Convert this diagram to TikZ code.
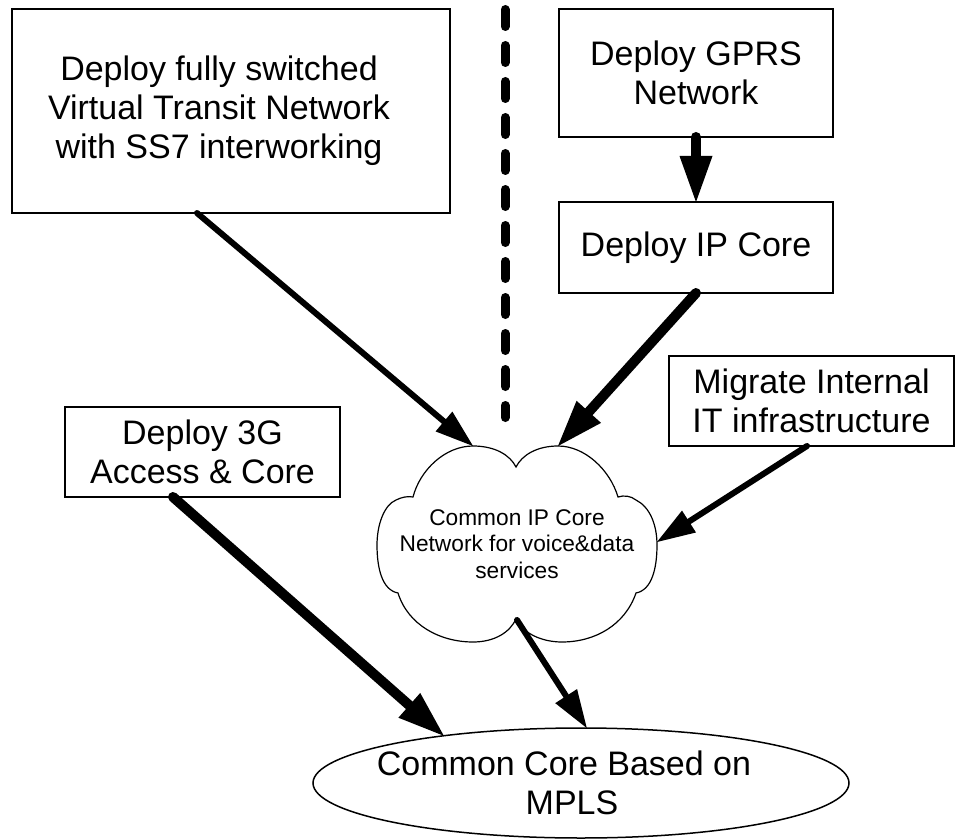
\documentclass[tikz,border=0pt]{standalone}
\usepackage{fontspec}
\setmainfont{Liberation Sans}
\usetikzlibrary{arrows.meta,shapes.geometric}
\newcommand{\nudge}{\hspace*{-24pt}}
\begin{document}
\begin{tikzpicture}[x=1pt,y=-1pt,
    stepbox/.style={draw,line width=1.5pt,rectangle,align=center,inner sep=0pt,outer sep=0pt,font=\fontsize{34}{39}\selectfont},
    heavy/.style={line width=10pt,line cap=round,-{Triangle[length=46pt,width=33pt,line width=0pt]}},
    light/.style={line width=6pt,line cap=round,-{Triangle[length=38pt,width=26pt,line width=0pt]}},
    divider/.style={line width=9pt,line cap=round,dash pattern=on 17pt off 19pt}]
    \useasboundingbox (0,0) rectangle (956,840);
    %% boxes
    \node[stepbox,minimum width=438pt,minimum height=204pt] (vtn) at (231,111) {\nudge Deploy fully switched\\\nudge Virtual Transit Network\\\nudge with SS7 interworking};
    \node[stepbox,minimum width=274pt,minimum height=128pt] (gprs) at (696,73) {Deploy GPRS\\Network};
    \node[stepbox,minimum width=274pt,minimum height=91pt] (ipcore) at (696,247.5) {Deploy IP Core};
    \node[stepbox,minimum width=285pt,minimum height=90pt] (migrate) at (811.5,401) {Migrate Internal\\IT infrastructure};
    \node[stepbox,minimum width=275pt,minimum height=90pt] (threeg) at (202.5,452) {Deploy 3G\\Access \& Core};
    %% divider
    \draw[divider] (505,9.5) -- (505,417.5);
    %% cloud
    \draw[line width=1.2pt,fill=white] (413,497) .. controls (420,470) and (445,446) .. (473,446)
        .. controls (495,446) and (510,455) .. (516,467)
        .. controls (522,455) and (537,446) .. (558,446)
        .. controls (585,446) and (610,470) .. (618,497)
        .. controls (624,495) and (631,496) .. (636,500)
        .. controls (650,507) and (657,525) .. (657,545)
        .. controls (657,568) and (652,590) .. (636,593)
        .. controls (625,625) and (595,642) .. (562,642)
        .. controls (540,642) and (522,632) .. (516,619)
        .. controls (510,632) and (495,642) .. (473,642)
        .. controls (440,642) and (408,625) .. (398,593)
        .. controls (382,590) and (377,568) .. (377,545)
        .. controls (377,525) and (384,505) .. (396,500)
        .. controls (402,497) and (408,496) .. cycle;
    \node[align=center,font=\fontsize{22.7}{26.5}\selectfont] (cloud) at (517,544) {Common IP Core\\Network for voice\&data\\services};
    \coordinate (cloud-tl) at (473,446);
    \coordinate (cloud-tr) at (558,446);
    \coordinate (cloud-r) at (657,542);
    \coordinate (cloud-b) at (517,620);
    %% target
    \node[draw,line width=1.5pt,ellipse,inner sep=0pt,outer sep=0pt,minimum width=536pt,minimum height=110pt,align=center,font=\fontsize{34}{39}\selectfont] (mpls) at (581,783) {\hspace*{-34pt}Common Core Based on\\\hspace*{-18pt}MPLS};
    %% arrows
    \draw[light] ([xshift=-34pt]vtn.south) -- (cloud-tl);
    \draw[heavy] (gprs.south) -- (ipcore.north);
    \draw[heavy] (ipcore.south) -- (cloud-tr);
    \draw[light] ([xshift=-4.5pt]migrate.south) -- (cloud-r);
    \draw[heavy] ([xshift=-29.5pt]threeg.south) -- (mpls.161);
    \draw[light] (cloud-b) -- (mpls.84);
\end{tikzpicture}
\end{document}
